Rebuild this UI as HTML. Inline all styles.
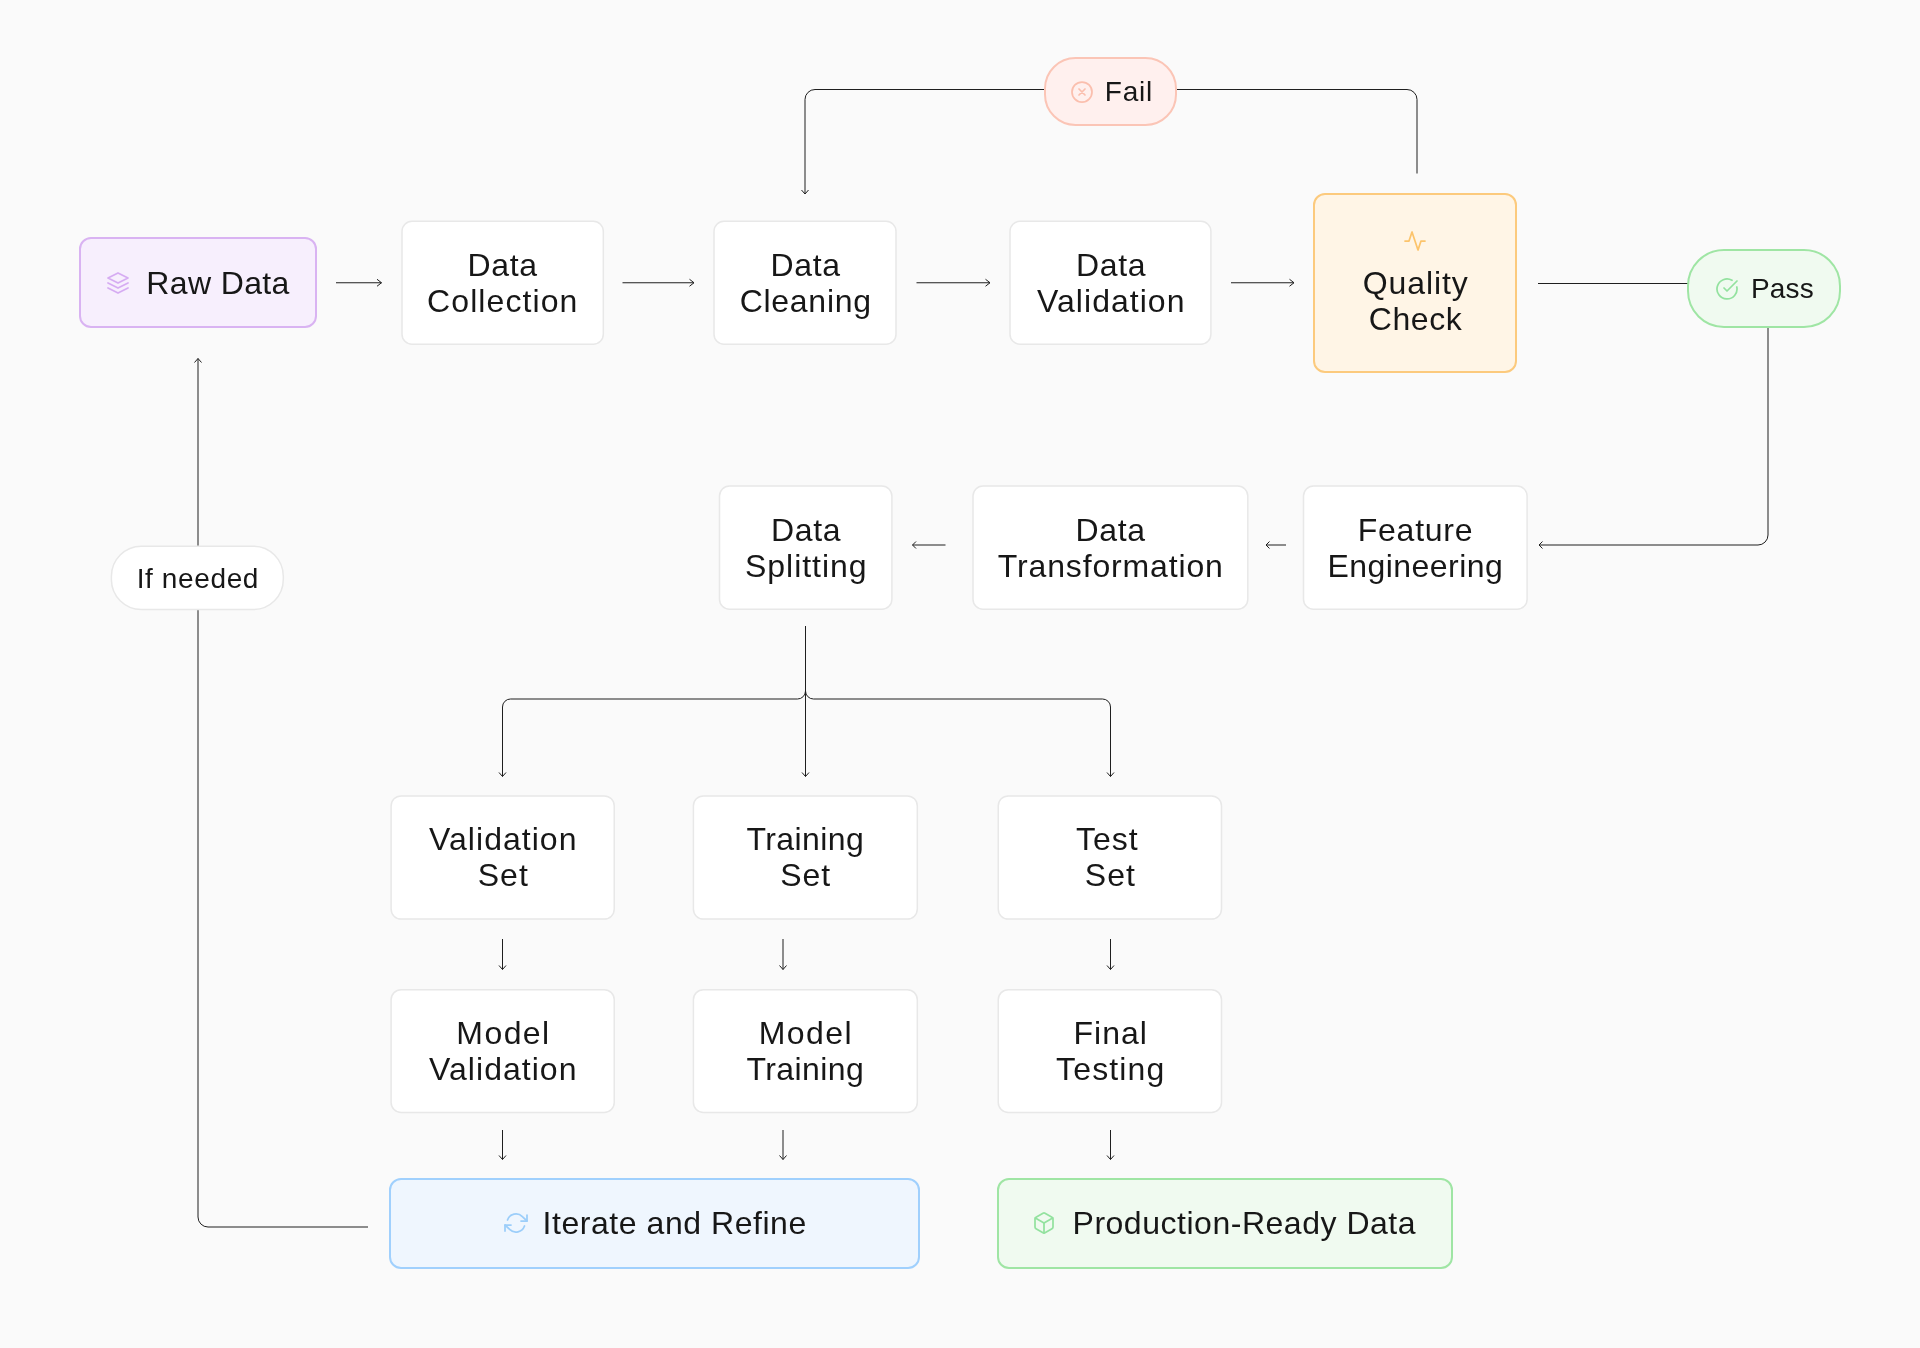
<!DOCTYPE html>
<html>
<head>
<meta charset="utf-8">
<style>
html,body{margin:0;padding:0;}
body{width:1920px;height:1348px;background:#fafafa;position:relative;overflow:hidden;font-family:"Liberation Sans",sans-serif;color:#171717;}
.n{position:absolute;box-sizing:border-box;background:#fff;border:2px solid #ebebeb;border-radius:10px;display:flex;align-items:center;justify-content:center;text-align:center;font-size:32px;line-height:36px;white-space:nowrap;}
.p{border-radius:40px;font-size:28px;padding-top:1.5px;}
.ic2{flex:none;width:24px;height:24px;fill:none;stroke-width:1.75;stroke-linecap:round;stroke-linejoin:round;}
svg.edges{position:absolute;left:0;top:0;}
.t{background:transparent;border:0;}
.n>span{will-change:transform;}
</style>
</head>
<body>
<svg class="edges" width="1920" height="1348" viewBox="0 0 1920 1348" fill="none" stroke="#1f1f1f" stroke-width="1">
<path d="M336 282.75H381.5M377.0 279.25L381.5 282.75L377.0 286.25"/>
<path d="M622.5 282.75H694M689.5 279.25L694 282.75L689.5 286.25"/>
<path d="M916.5 282.75H990M985.5 279.25L990 282.75L985.5 286.25"/>
<path d="M1231 282.75H1294M1289.5 279.25L1294 282.75L1289.5 286.25"/>
<path d="M1538 283.5H1688"/>
<path d="M1768 328V535A10 10 0 0 1 1758 545H1539M1542.5 541.5L1539 545L1542.5 548.5"/>
<path d="M1286 545H1266M1269.5 541.5L1266 545L1269.5 548.5"/>
<path d="M945.5 545H912.5M916.0 541.5L912.5 545L916.0 548.5"/>
<path d="M1417 173.5V99.5A10 10 0 0 0 1407 89.5H1177"/>
<path d="M1044 89.5H815A10 10 0 0 0 805 99.5V194M801.5 190L805 194L808.5 190"/>
<path d="M805.5 626V776.5M802.0 772.5L805.5 776.5L809.0 772.5"/>
<path d="M805.5 691A8 8 0 0 1 797.5 699H510.5A8 8 0 0 0 502.5 707V776.5M499.0 772.5L502.5 776.5L506.0 772.5"/>
<path d="M805.5 691A8 8 0 0 0 813.5 699H1102.5A8 8 0 0 1 1110.5 707V776.5M1107.0 772.5L1110.5 776.5L1114.0 772.5"/>
<path d="M502.5 939V969.5M499.0 965.5L502.5 969.5L506.0 965.5"/>
<path d="M502.5 1130V1159.5M499.0 1155.5L502.5 1159.5L506.0 1155.5"/>
<path d="M783 939V969.5M779.5 965.5L783 969.5L786.5 965.5"/>
<path d="M783 1130V1159.5M779.5 1155.5L783 1159.5L786.5 1155.5"/>
<path d="M1110.5 939V969.5M1107.0 965.5L1110.5 969.5L1114.0 965.5"/>
<path d="M1110.5 1130V1159.5M1107.0 1155.5L1110.5 1159.5L1114.0 1155.5"/>
<path d="M368 1227H208A10 10 0 0 1 198 1217V358.5M194.5 362.5L198 358.5L201.5 362.5"/>
<g fill="#fff" stroke="#e8e8e8" stroke-width="1.5">
<rect x="402.0" y="221.35" width="201.30" height="122.85" rx="10"/>
<rect x="714.0" y="221.35" width="182.00" height="122.85" rx="10"/>
<rect x="1010.0" y="221.35" width="200.90" height="122.85" rx="10"/>
<rect x="719.5" y="486.1" width="172.40" height="123.10" rx="10"/>
<rect x="973.0" y="486.1" width="274.80" height="123.10" rx="10"/>
<rect x="1303.5" y="486.1" width="223.60" height="123.10" rx="10"/>
<rect x="111.4" y="546.2" width="171.90" height="63.40" rx="30"/>
<rect x="391.1" y="795.9" width="223.15" height="123.20" rx="10"/>
<rect x="693.4" y="795.9" width="223.90" height="123.20" rx="10"/>
<rect x="998.25" y="795.9" width="223.25" height="123.20" rx="10"/>
<rect x="391.1" y="989.7" width="223.15" height="122.80" rx="10"/>
<rect x="693.4" y="989.7" width="223.90" height="122.80" rx="10"/>
<rect x="998.25" y="989.7" width="223.25" height="122.80" rx="10"/>
</g>

</svg>

<div class="n" id="raw" style="left:79px;top:237px;width:238px;height:91px;background:#f7effd;border:2px solid #d9b3f2;border-radius:12px;gap:16px;"><svg class="ic2" viewBox="0 0 24 24" stroke="#d6acf2"><polygon points="12 2 2 7 12 12 22 7 12 2"/><polyline points="2 17 12 22 22 17"/><polyline points="2 12 12 17 22 12"/></svg><span><span class="l" style="letter-spacing:0.357px;padding-left:0.357px;">Raw Data</span></span></div>
<div class="n" id="qc" style="left:1313px;top:193px;width:204px;height:180px;background:#fff5e6;border:2px solid #fcca7d;border-radius:12px;flex-direction:column;gap:12px;"><svg class="ic2" viewBox="0 0 24 24" stroke="#fcc46c" stroke-width="2"><polyline points="22 12 18 12 15 21 9 3 6 12 2 12"/></svg><span><span class="l" style="letter-spacing:0.867px;padding-left:0.867px;">Quality</span><br><span class="l" style="letter-spacing:0.550px;padding-left:0.550px;">Check</span></span></div>
<div class="n p" id="fail" style="left:1043.5px;top:57px;width:133.5px;height:69px;background:#fff0ee;border:2px solid #fbc5b6;border-radius:31.5px;gap:10px;padding-left:2px;"><svg class="ic2" viewBox="0 0 24 24" stroke="#fbbfae"><circle cx="12" cy="12" r="10"/><path d="m15 9-6 6M9 9l6 6"/></svg><span><span class="l" style="letter-spacing:0.767px;padding-left:0.767px;">Fail</span></span></div>
<div class="n p" id="pass" style="left:1687px;top:249px;width:154px;height:79px;background:#f0faf0;border:2px solid #9fe5a4;border-radius:37px;gap:12px;"><svg class="ic2" viewBox="0 0 24 24" stroke="#93e29f"><path d="M21.801 10A10 10 0 1 1 17 3.335"/><path d="m9 11 3 3L22 4"/></svg><span><span class="l" style="letter-spacing:0.100px;padding-left:0.100px;">Pass</span></span></div>
<div class="n" id="itr" style="left:389px;top:1178px;width:530.5px;height:91px;background:#eff6fe;border:2px solid #a0d0fd;border-radius:12px;gap:14px;padding-left:2px;padding-bottom:1px;"><svg class="ic2" viewBox="0 0 24 24" stroke="#9ccefa"><polyline points="23 4 23 10 17 10"/><polyline points="1 20 1 14 7 14"/><path d="M3.51 9a9 9 0 0 1 14.85-3.36L23 10M1 14l4.64 4.36A9 9 0 0 0 20.49 15"/></svg><span><span class="l" style="letter-spacing:0.547px;padding-left:0.547px;">Iterate and Refine</span></span></div>
<div class="n" id="prod" style="left:996.5px;top:1178px;width:456px;height:91px;background:#f0faf0;border:2px solid #9fe5a4;border-radius:12px;gap:16px;padding-bottom:1px;"><svg class="ic2" viewBox="0 0 24 24" stroke="#93e29f"><path d="M21 8a2 2 0 0 0-1-1.73l-7-4a2 2 0 0 0-2 0l-7 4A2 2 0 0 0 3 8v8a2 2 0 0 0 1 1.73l7 4a2 2 0 0 0 2 0l7-4A2 2 0 0 0 21 16Z"/><path d="m3.3 7 8.7 5 8.7-5"/><path d="M12 22V12"/></svg><span><span class="l" style="letter-spacing:0.520px;padding-left:0.520px;">Production-Ready Data</span></span></div>
<div class="n t" id="col" style="left:402.0px;top:221.35px;width:201.30px;height:122.85px;"><span><span class="l" style="letter-spacing:0.667px;padding-left:0.667px;">Data</span><br><span class="l" style="letter-spacing:1.089px;padding-left:1.089px;">Collection</span></span></div>
<div class="n t" id="cln" style="left:714.0px;top:221.35px;width:182.00px;height:122.85px;"><span><span class="l" style="letter-spacing:0.667px;padding-left:0.667px;">Data</span><br><span class="l" style="letter-spacing:0.714px;padding-left:0.714px;">Cleaning</span></span></div>
<div class="n t" id="val" style="left:1010.0px;top:221.35px;width:200.90px;height:122.85px;"><span><span class="l" style="letter-spacing:0.667px;padding-left:0.667px;">Data</span><br><span class="l" style="letter-spacing:1.033px;padding-left:1.033px;">Validation</span></span></div>
<div class="n t" id="spl" style="left:719.5px;top:486.1px;width:172.40px;height:123.10px;"><span><span class="l" style="letter-spacing:0.667px;padding-left:0.667px;">Data</span><br><span class="l" style="letter-spacing:0.975px;padding-left:0.975px;">Splitting</span></span></div>
<div class="n t" id="trn" style="left:973.0px;top:486.1px;width:274.80px;height:123.10px;"><span><span class="l" style="letter-spacing:0.667px;padding-left:0.667px;">Data</span><br><span class="l" style="letter-spacing:0.846px;padding-left:0.846px;">Transformation</span></span></div>
<div class="n t" id="fea" style="left:1303.5px;top:486.1px;width:223.60px;height:123.10px;"><span><span class="l" style="letter-spacing:0.733px;padding-left:0.733px;">Feature</span><br><span class="l" style="letter-spacing:0.460px;padding-left:0.460px;">Engineering</span></span></div>
<div class="n t p" id="ifn" style="left:111.4px;top:546.2px;width:171.90px;height:63.40px;"><span><span class="l" style="letter-spacing:0.625px;padding-left:0.625px;">If needed</span></span></div>
<div class="n t" id="vset" style="left:391.1px;top:795.9px;width:223.15px;height:123.20px;"><span><span class="l" style="letter-spacing:1.033px;padding-left:1.033px;">Validation</span><br><span class="l" style="letter-spacing:1.000px;padding-left:1.000px;">Set</span></span></div>
<div class="n t" id="tset" style="left:693.4px;top:795.9px;width:223.90px;height:123.20px;"><span><span class="l" style="letter-spacing:0.429px;padding-left:0.429px;">Training</span><br><span class="l" style="letter-spacing:1.000px;padding-left:1.000px;">Set</span></span></div>
<div class="n t" id="teset" style="left:998.25px;top:795.9px;width:223.25px;height:123.20px;"><span><span class="l" style="letter-spacing:1.000px;padding-left:1.000px;padding-right:6px;">Test</span><br><span class="l" style="letter-spacing:1.000px;padding-left:1.000px;">Set</span></span></div>
<div class="n t" id="mval" style="left:391.1px;top:989.7px;width:223.15px;height:122.80px;"><span><span class="l" style="letter-spacing:1.425px;padding-left:1.425px;">Model</span><br><span class="l" style="letter-spacing:1.033px;padding-left:1.033px;">Validation</span></span></div>
<div class="n t" id="mtr" style="left:693.4px;top:989.7px;width:223.90px;height:122.80px;"><span><span class="l" style="letter-spacing:1.425px;padding-left:1.425px;">Model</span><br><span class="l" style="letter-spacing:0.429px;padding-left:0.429px;">Training</span></span></div>
<div class="n t" id="fin" style="left:998.25px;top:989.7px;width:223.25px;height:122.80px;"><span><span class="l" style="letter-spacing:1.000px;padding-left:1.000px;">Final</span><br><span class="l" style="letter-spacing:1.117px;padding-left:1.117px;">Testing</span></span></div>
</body>
</html>
